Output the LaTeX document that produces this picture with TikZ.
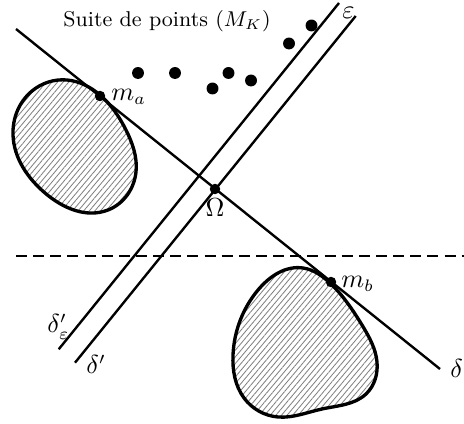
\documentclass[tikz,border=0pt]{standalone}
\usetikzlibrary{patterns.meta,hobby}
\begin{document}
\begin{tikzpicture}[x=0.42pt,y=-0.42pt,
  ln/.style={line width=1pt},
  blob/.style={line width=1.4pt, pattern={Lines[angle=50,distance=1.8pt,line width=0.35pt]}, pattern color=gray},
  pt/.style={circle, fill=black, inner sep=0pt, minimum size=5pt},
  mk/.style={circle, fill=black, inner sep=0pt, minimum size=4.4pt},
  lab/.style={inner sep=0pt, font=\fontsize{10.5}{12}\selectfont}]
\useasboundingbox (0,0) rectangle (464,424);
% blobs
\draw[blob] (67,80) to[closed, curve through={(100,95) (126,130) (136,172) (108,210) (45,193) (13,135)}] (32,91);
\draw[blob] (303,268) to[closed, curve through={(330,283) (362,325) (377,362) (366,394) (322,409) (278,417) (244,398) (233,355)}] (258,290);
% named coordinates
\coordinate (d1) at (16,29);
\coordinate (d2) at (440,369);
\coordinate (e1) at (339,3);
\coordinate (e2) at (58.7,349.3);
\coordinate (p1) at (355.7,16);
\coordinate (p2) at (75,362.7);
\coordinate (h1) at (16,256);
\coordinate (h2) at (464,256);
% lines
\draw[ln] (d1) -- (d2);
\draw[ln] (e1) -- (e2);
\draw[ln] (p1) -- (p2);
\draw[line width=1pt, dash pattern=on 4.6pt off 2.6pt] (h1) -- (h2);
% marked points
\node[mk] (ma) at (100,96) {};
\node[mk] (om) at (215,189) {};
\node[mk] (mb) at (331,282) {};
% suite
\node[pt] (k1) at (138,73) {};
\node[pt] (k2) at (175,73) {};
\node[pt] (k3) at (212.5,88.5) {};
\node[pt] (k4) at (228.5,73) {};
\node[pt] (k5) at (251,80.5) {};
\node[pt] (k6) at (289,43.5) {};
\node[pt] (k7) at (311.5,25.5) {};
% labels
\node[lab, anchor=base west] (lma) at (111,101) {$m_a$};
\node[lab, anchor=base west] (lmb) at (341,288) {$m_b$};
\node[lab, anchor=base] (lom) at (215,217) {$\Omega$};
\node[lab, anchor=base west] (leps) at (342,19) {$\varepsilon$};
\node[lab, anchor=base west] (lde) at (47,333) {$\delta'_\varepsilon$};
\node[lab, anchor=base west] (ldp) at (86,374) {$\delta'$};
\node[lab, anchor=base west] (ld) at (450,378) {$\delta$};
\node[inner sep=0pt, anchor=base] (ls) at (167,27) {\small Suite de points $(M_K)$};
\end{tikzpicture}
\end{document}
